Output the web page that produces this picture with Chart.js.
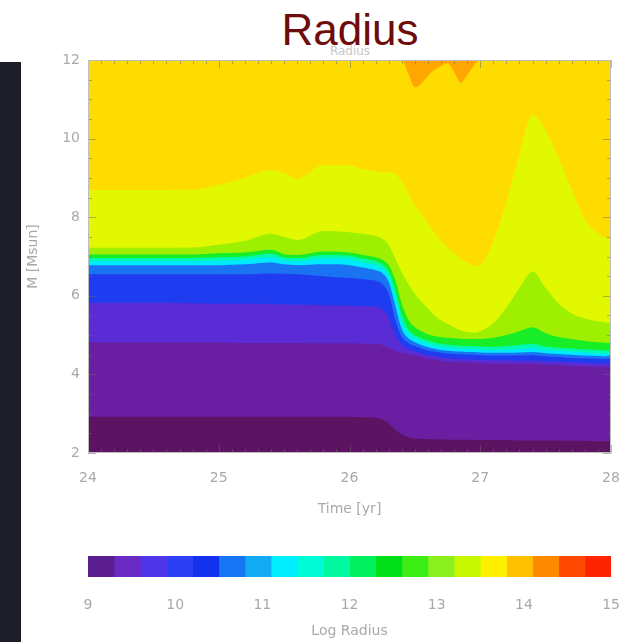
<!DOCTYPE html>
<html>
<head>
<meta charset="utf-8">
<script src="https://cdn.jsdelivr.net/npm/chart.js@4.4.0/dist/chart.umd.min.js"></script>
<style>
  body { margin: 0; background: #fff; width: 640px; height: 642px; overflow: hidden; position: relative; font-family: 'Liberation Sans', Arial, sans-serif; }
  #strip { position: absolute; left: 0; top: 62px; width: 21px; height: 580px; background: #1d1e27; }
  #ghost { position: absolute; left: 350px; top: 44px; transform: translateX(-50%); font: 12px 'DejaVu Sans'; color: #c8c8c8; }
  #title { position: absolute; left: 350px; top: 8px; transform: translateX(-50%); font-size: 44px; line-height: 1; color: #6e0b0b; white-space: nowrap; }
  #main { position: absolute; left: 0; top: 0; }
  #bar { position: absolute; left: 0; top: 530px; }
</style>
</head>
<body>
<div id="strip"></div>
<div id="ghost">Radius</div>
<div id="title">Radius</div>
<canvas id="main" width="640" height="530"></canvas>
<canvas id="bar" width="640" height="112"></canvas>
<script>
// temps (yr) ou as fronteiras dos contornos foram lidas
const times = [24.0, 24.4, 24.8, 25.0, 25.2, 25.4, 25.5, 25.6, 25.8, 26.0, 26.1, 26.2, 26.25, 26.3, 26.35, 26.4,
  26.45, 26.5, 26.55, 26.6, 26.65, 26.7, 26.75, 26.8, 26.85, 26.9, 26.95, 27.0, 27.1, 27.2, 27.3, 27.4, 27.5, 27.6, 27.7, 27.8, 27.9, 28.0];

// limite superior de cada faixa de cor (M [Msun]), de baixo para cima
const mDarkPurple = [2.92, 2.92, 2.92, 2.92, 2.92, 2.92, 2.92, 2.92, 2.92, 2.92, 2.91, 2.9, 2.86, 2.76, 2.6, 2.47,
  2.4, 2.37, 2.36, 2.35, 2.35, 2.35, 2.34, 2.34, 2.34, 2.34, 2.34, 2.33, 2.33, 2.33, 2.32, 2.32, 2.32, 2.32, 2.31, 2.31, 2.3, 2.3];
const mPurple = [4.82, 4.82, 4.81, 4.81, 4.8, 4.8, 4.8, 4.8, 4.79, 4.79, 4.78, 4.78, 4.75, 4.68, 4.6, 4.55,
  4.52, 4.48, 4.44, 4.41, 4.38, 4.35, 4.33, 4.32, 4.31, 4.3, 4.3, 4.29, 4.28, 4.28, 4.27, 4.27, 4.25, 4.24, 4.22, 4.21, 4.2, 4.19];
const mViolet = [5.82, 5.82, 5.81, 5.8, 5.8, 5.79, 5.78, 5.78, 5.76, 5.75, 5.74, 5.72, 5.65, 5.45, 5.0, 4.75,
  4.65, 4.58, 4.53, 4.49, 4.46, 4.43, 4.41, 4.4, 4.39, 4.38, 4.38, 4.37, 4.36, 4.36, 4.35, 4.35, 4.33, 4.32, 4.3, 4.29, 4.28, 4.27];
const mBlue = [6.55, 6.55, 6.55, 6.55, 6.55, 6.57, 6.56, 6.55, 6.5, 6.45, 6.42, 6.38, 6.3, 6.05, 5.4, 4.95,
  4.8, 4.72, 4.66, 4.61, 4.58, 4.55, 4.53, 4.52, 4.51, 4.5, 4.5, 4.49, 4.48, 4.48, 4.48, 4.49, 4.46, 4.44, 4.42, 4.41, 4.4, 4.39];
const mLightBlue = [6.78, 6.78, 6.78, 6.78, 6.8, 6.85, 6.8, 6.78, 6.8, 6.78, 6.72, 6.65, 6.58, 6.35, 5.75, 5.15,
  4.92, 4.82, 4.75, 4.69, 4.65, 4.62, 4.6, 4.59, 4.58, 4.57, 4.57, 4.56, 4.55, 4.55, 4.56, 4.57, 4.54, 4.52, 4.5, 4.48, 4.47, 4.46];
const mCyan = [6.88, 6.88, 6.88, 6.9, 6.92, 6.98, 6.9, 6.88, 6.95, 6.93, 6.85, 6.78, 6.7, 6.5, 6.0, 5.35,
  5.05, 4.92, 4.84, 4.78, 4.73, 4.7, 4.68, 4.66, 4.65, 4.64, 4.64, 4.63, 4.62, 4.63, 4.65, 4.67, 4.62, 4.6, 4.58, 4.56, 4.54, 4.53];
const mAqua = [6.96, 6.96, 6.96, 6.98, 7.0, 7.07, 6.98, 6.96, 7.04, 7.02, 6.95, 6.88, 6.8, 6.62, 6.15, 5.5,
  5.15, 5.0, 4.92, 4.86, 4.81, 4.78, 4.76, 4.74, 4.73, 4.72, 4.72, 4.71, 4.7, 4.72, 4.75, 4.78, 4.71, 4.68, 4.66, 4.64, 4.62, 4.6];
const mGreen = [7.05, 7.05, 7.05, 7.08, 7.1, 7.17, 7.06, 7.04, 7.13, 7.1, 7.04, 6.98, 6.92, 6.78, 6.4, 5.8,
  5.4, 5.2, 5.1, 5.02, 4.98, 4.95, 4.93, 4.92, 4.91, 4.9, 4.9, 4.9, 4.93, 5.0, 5.1, 5.2, 5.05, 4.95, 4.9, 4.85, 4.82, 4.8];
const mGreenYellow = [7.22, 7.22, 7.23, 7.3, 7.4, 7.58, 7.5, 7.42, 7.65, 7.62, 7.58, 7.52, 7.45, 7.3, 6.95, 6.6,
  6.3, 6.05, 5.85, 5.68, 5.5, 5.38, 5.28, 5.2, 5.12, 5.08, 5.06, 5.1, 5.3, 5.7, 6.2, 6.62, 6.2, 5.8, 5.55, 5.42, 5.35, 5.3];
const mYellowGreen = [8.69, 8.69, 8.7, 8.82, 9.0, 9.2, 9.12, 8.98, 9.33, 9.32, 9.22, 9.17, 9.15, 9.14, 9.1, 8.9,
  8.6, 8.3, 8.1, 7.85, 7.6, 7.4, 7.22, 7.08, 6.95, 6.85, 6.76, 6.78, 7.4, 8.4, 9.6, 10.6, 10.2, 9.5, 8.7, 7.95, 7.6, 7.42];
const mGold = [12, 12, 12, 12, 12, 12, 12, 12, 12, 12, 12, 12, 12, 12, 12, 12,
  11.65, 11.3, 11.4, 11.6, 11.75, 11.85, 11.92, 11.7, 11.42, 11.62, 11.85, 12, 12, 12, 12, 12, 12, 12, 12, 12, 12, 12];
const mOrange = [12, 12, 12, 12, 12, 12, 12, 12, 12, 12, 12, 12, 12, 12, 12, 12,
  12, 12, 12, 12, 12, 12, 12, 12, 12, 12, 12, 12, 12, 12, 12, 12, 12, 12, 12, 12, 12, 12];

const xTicks = [24, 25, 26, 27, 28];
const yTicks = [2, 4, 6, 8, 10, 12];

// niveis da barra de cores (Log Radius)
const levels = [9, 9.3, 9.6, 9.9, 10.2, 10.5, 10.8, 11.1, 11.4, 11.7, 12, 12.3, 12.6, 12.9, 13.2, 13.5, 13.8, 14.1, 14.4, 14.7, 15];
const barTicks = [9, 10, 11, 12, 13, 14, 15];

const boundaries = [mDarkPurple, mPurple, mViolet, mBlue, mLightBlue, mCyan, mAqua, mGreen, mGreenYellow, mYellowGreen, mGold, mOrange];
const bandColors = ['#5c1462', '#6a1fa2', '#5a2cd6', '#1f3cf0', '#1a74f2', '#00eaff', '#00f8b0', '#18ee28', '#9ef000', '#e2f800', '#ffdc00', '#ffa600'];
const barColors = ['#5b1e8e', '#6a2bc4', '#4f36ea', '#2c3ff2', '#1232ee', '#1675f2', '#12aaf2', '#00eefe', '#00fcd6', '#00f8a0',
  '#00f060', '#00e018', '#3cee14', '#8cf020', '#c8f800', '#fff000', '#ffc000', '#ff8a00', '#ff4800', '#ff2400'];

const tickFont = { family: 'DejaVu Sans', size: 14 };
const grey = '#a9a9a9';

// tracinhos para dentro e moldura do grafico (estilo IDL)
const moldura = {
  id: 'moldura',
  afterDatasetsDraw(chart) {
    const { ctx, chartArea: a, scales: { x, y } } = chart;
    ctx.save();
    ctx.strokeStyle = 'rgba(105,105,105,0.5)';
    ctx.lineWidth = 1;
    ctx.beginPath();
    for (let i = 0; i <= 40; i++) {
      const px = Math.round(x.getPixelForValue(24 + i / 10)) + 0.5;
      const len = i % 10 === 0 ? 8 : 4;
      ctx.moveTo(px, a.top); ctx.lineTo(px, a.top + len);
      ctx.moveTo(px, a.bottom); ctx.lineTo(px, a.bottom - len);
    }
    for (let i = 0; i <= 20; i++) {
      const py = Math.round(y.getPixelForValue(2 + i / 2)) + 0.5;
      const len = i % 4 === 0 ? 8 : 4;
      ctx.moveTo(a.left, py); ctx.lineTo(a.left + len, py);
      ctx.moveTo(a.right, py); ctx.lineTo(a.right - len, py);
    }
    ctx.stroke();
    ctx.strokeStyle = '#bdbdbd';
    ctx.strokeRect(a.left + 0.5, a.top + 0.5, a.right - a.left - 1, a.bottom - a.top - 1);
    ctx.restore();
  }
};

new Chart(document.getElementById('main'), {
  type: 'line',
  data: {
    datasets: boundaries.map((arr, i) => ({
      data: times.map((t, k) => ({ x: t, y: arr[k] })),
      backgroundColor: bandColors[i],
      borderColor: 'rgba(0,0,0,0)',
      borderWidth: 0,
      pointRadius: 0,
      fill: 'start',
      cubicInterpolationMode: 'monotone'
    }))
  },
  options: {
    responsive: false,
    animation: false,
    events: [],
    layout: { padding: { left: 21, right: 29, top: 60, bottom: 0 } },
    plugins: { legend: { display: false }, tooltip: { enabled: false } },
    scales: {
      x: {
        type: 'linear', min: 24, max: 28,
        grid: { display: false, drawTicks: false },
        border: { display: false },
        afterBuildTicks: s => { s.ticks = xTicks.map(v => ({ value: v })); },
        afterFit: s => { s.height = 77; },
        ticks: { color: grey, font: tickFont, padding: 17, autoSkip: false, maxRotation: 0 },
        title: { display: true, text: 'Time [yr]', color: grey, font: tickFont, padding: { top: 0, bottom: 12 } }
      },
      y: {
        type: 'linear', min: 2, max: 12,
        grid: { display: false, drawTicks: false },
        border: { display: false },
        afterBuildTicks: s => { s.ticks = yTicks.map(v => ({ value: v })); },
        afterFit: s => { s.width = 67; },
        ticks: { color: grey, font: tickFont, padding: 8, autoSkip: false },
        title: { display: true, text: 'M [Msun]', color: grey, font: tickFont, padding: { top: 4, bottom: 0 } }
      }
    }
  },
  plugins: [moldura]
});

new Chart(document.getElementById('bar'), {
  type: 'bar',
  data: {
    labels: [''],
    datasets: barColors.map((c, i) => ({
      data: [[levels[i], levels[i + 1]]],
      backgroundColor: c,
      borderWidth: 0,
      barPercentage: 1,
      categoryPercentage: 1,
      grouped: false
    }))
  },
  options: {
    indexAxis: 'y',
    responsive: false,
    animation: false,
    events: [],
    layout: { padding: { left: 88, right: 23, top: 26, bottom: 0 } },
    plugins: { legend: { display: false }, tooltip: { enabled: false } },
    scales: {
      x: {
        type: 'linear', min: 9, max: 15,
        grid: { display: false, drawTicks: false },
        border: { display: false },
        afterBuildTicks: s => { s.ticks = barTicks.map(v => ({ value: v })); },
        afterFit: s => { s.height = 65; },
        ticks: { color: grey, font: tickFont, padding: 20, autoSkip: false, maxRotation: 0 },
        title: { display: true, text: 'Log Radius', color: grey, font: tickFont, padding: { top: 0, bottom: 2 } }
      },
      y: { display: false }
    }
  }
});
</script>
</body>
</html>
